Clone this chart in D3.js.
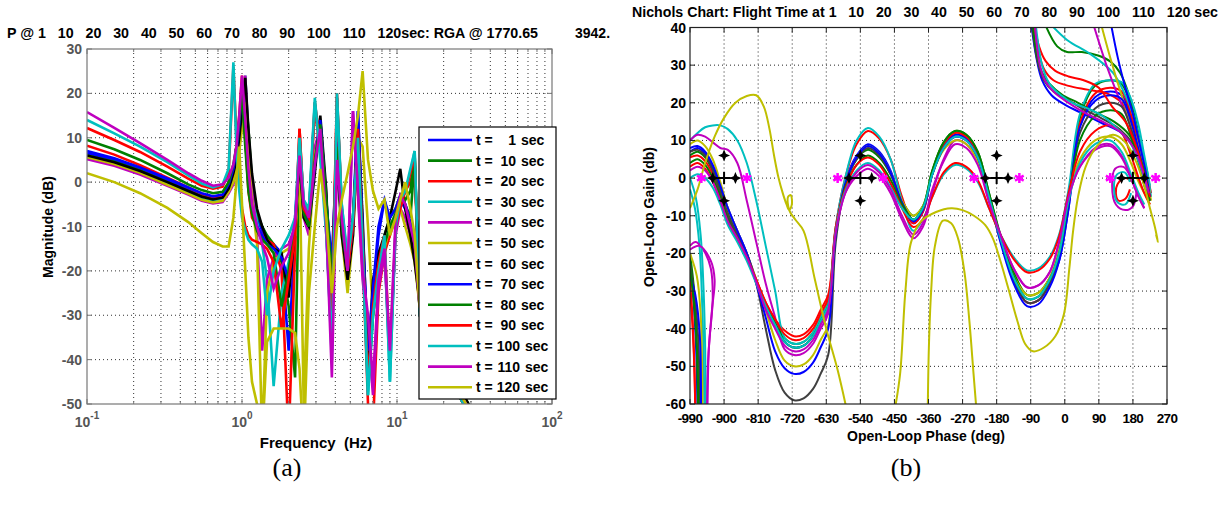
<!DOCTYPE html>
<html><head><meta charset="utf-8">
<script src="https://cdn.jsdelivr.net/npm/d3@7"></script>
<style>
body{margin:0;background:#fff;}
svg text{font-family:"Liberation Sans",Arial,sans-serif;font-weight:bold;}
</style></head><body>
<svg id="c" width="1231" height="508"></svg>
<script>
// ---------------- DATA ----------------
const seriesLabels = ['1','10','20','30','40','50','60','70','80','90','100','110','120'];
const seriesColors = ['#0000ff','#008000','#ff0000','#00bfbf','#bf00bf','#bfbf00','#000000','#0000ff','#008000','#ff0000','#00bfbf','#bf00bf','#bfbf00'];
const nicholsColors = ['#0000ff','#008000','#ff0000','#00bfbf','#bf00bf','#bfbf00','#404040','#0000ff','#008000','#ff0000','#00bfbf','#bf00bf','#bfbf00'];

// Bode magnitude (dB) vs frequency (Hz)
const freqHz = [0.1,0.15,0.22,0.33,0.45,0.55,0.65,0.75,0.82,0.88,0.92,0.96,1.0,1.05,1.1,1.16,1.25,1.35,1.45,1.6,1.8,2.0,2.2,2.35,2.5,2.7,2.95,3.2,3.5,3.8,4.1,4.4,4.8,5.2,5.6,6.0,6.5,7.0,7.6,8.3,9.0,9.8,10.5,11.3,12.2,13.0,14.0,16.0,20,25,30,36];
const magT1 = [6.5,5,3,0.5,-1.5,-2.8,-3.5,-3,-1, 2,5,10,16,22,8,-2, -8,-11,-13,-14,-16,-38,-12, 8,-6,-9,6,14,-4,-20, 10,-8,-20,-8,16,-12,-40, -25,-12,-4,-10,-8,-4,-6,-10,-14, -28,-35,-41,-47,-52,-58];
const magT10 = [6,4.6,2.6,0,-2,-3.2,-3.8,-3.2,-1.2, 1,4,8,14,20,12,0, -7,-10,-12,-14,-18,-28,-44, 6,-7,-10,5,13,-6,-25, 8,-10,-22,-10,12,-14,-44, -28,-18,-12,-8,-6,-3,-5,-8,5, -27,-34,-40,-46,-51,-57];
const magT20 = [8.2,6.2,3.8,1,-1.2,-2.6,-3.4,-3,-0.5, 3,8,15,24,10,-2,-8, -10,-12,-13,-14,-20,-58,-15, 12,-5,-8,17,6,-8,-28, 20,-6,-18,-9,12,-16,-50, -55,-25,-16,-12,-8,-5,-2,0,4, -29,-36,-42,-48,-53,-59];
const magT30 = [5.5,4,2,-0.5,-2.5,-3.8,-4.3,-3.8,-2, 0,3,8,16,24,10,-3, -9,-14,-22,-46,-25,-18,-12, 10,-4,-7,18,8,-10,-40, 19,-5,-17,-8,10,-15,-48, -30,-20,-14,-45,-10,-5,-2,2,7, -30,-36,-42,-48,-53,-60];
const magT40 = [5.2,3.7,1.7,-0.8,-2.8,-4.2,-4.8,-4.5,-2.5, -0.5,3,8,15,24,10,-2, -12,-38,-22,-17,-15,-14,-10, 5,-8,-12,8,12,-12,-35, 6,-9,-22,16,-3,-22,-34, -48,-24,-16,-40,-12,-6,-8,-12,-16, -28,-35,-41,-47,-52,-58];
const magT50 = [5.6,4.1,2.1,-0.6,-2.6,-4,-4.6,-4.2,-2.2, 0,3,7,12,18,6,-4, -14,-58,-25,-18,-16,-15,-12, 4,-50,-15,6,12,-6,-22, 7,-12,-25,-12,10,8,-10, -30,-20,-15,-10,-8,-6,-10,-14,-18, -28,-35,-41,-47,-52,-58];
const magT60 = [6,4.5,2.5,0,-2,-3.3,-3.9,-3.5,-1.5, 2,5,10,16,23.5,12,2, -6,-10,-13,-15,-16,-26,-10, 5,-8,-10,2,15,-2,-35, 6,-12,-22,-12,13,-8,-42, -22,-16,-12,-8,-2,3,-6,-12,-18, -27,-34,-40,-46,-51,-57];
const magT70 = [7,5.4,3.3,0.8,-1.2,-2.5,-3.2,-2.8,-0.5, 3,7,13,21,10,0,-6, -10,-12,-14,-15,-17,-22,-8, 7,-6,-9,4,14,-5,-18, 9,-9,-20,-10,16,-10,-38, -24,-10,-4,-8,-6,-3,-5,-9,-13, -28,-35,-41,-47,-52,-58];
const magT80 = [9.5,7.4,5,2,-0.5,-1.8,-2.5,-2.2,0, 4,8,14,20,8,-2,-7, -11,-13,-14,-16,-28,-20,-9, 6,-7,-10,5,13,-4,-22, 8,-10,-20,-8,11,-12,-46, -30,-20,-14,-10,-7,-4,-4,-2,6, -29,-36,-42,-48,-53,-59];
const magT90 = [12.2,9.5,6.8,3.5,0.8,-0.8,-1.5,-1,2, 26,10,0,-6,-10,-12,-13, -13.5,-14,-15,-18,-33,-22,-12, 12,-6,-8,18,8,-10,-30, 19,-6,-20,-10,12,-14,-45, -28,-18,-12,-40,-10,-6,-2,2,6, -30,-36,-42,-48,-53,-60];
const magT100 = [14,11,8,4.5,1.5,-0.3,-1.2,-0.5,3, 27,8,-2,-8,-11,-13,-14, -15,-18,-30,-20,-15,-12,-8, 10,-4,-6,19,5,-12,-38, 20,-5,-18,-8,10,-15,-48, -30,-20,-12,-45,-10,-4,-2,3,7, -30,-36,-42,-48,-53,-60];
const magT110 = [15.8,12.2,8.8,5,2,0.3,-0.8,-0.5,1, 4,8,15,24,14,3,-5, -10,-14,-17,-24,-19,-16,-9, 6,-5,-8,4,12,-10,-44, 5,-8,-20,16,-2,-20,-30, -45,-22,-15,-38,-8,-3,-5,-10,-14, -28,-35,-41,-47,-52,-58];
const magT120 = [2,0,-2.5,-5.8,-9,-11.5,-13.5,-14.5,-14.5, -8,0,8,-5,-20,-35,-45, -50,-58,-36,-33,-33,-33,-34, -42,-60,-25,-10,3,-8,-25, -10,-4,2,8,15,25,5, -2,-6,-4,-12,-8,-4,0,-6,-12, -28,-36,-42,-47,-52,-58];
const bodeMags = [magT1,magT10,magT20,magT30,magT40,magT50,magT60,magT70,magT80,magT90,magT100,magT110,magT120];
const bodeDecades = [0.1,1,10,100];
const bodeExponents = ['-1','0','1','2'];

// Nichols: open-loop gain (dB) on a shared phase grid (deg)
const nPhase = [-990,-970,-950,-930,-910,-890,-865,-840,-815,-790,-765,-740,-715,-690,-665,-645,-625,-605,-580,-550,-520,-490,-460,-430,-400,-375,-350,-320,-290,-260,-230,-200,-170,-135,-100,-70,-40,-15,10,40,80,120,150,175,195,210,225];
const nT1 = [7,8,6.5,3,-2,-8,-14,-20,-27,-34,-39, -43.5,-45,-44.5,-42,-38,-34,-14, -1,6,9,7,2,-7,-12, -9,1,8.5,11.5,10.5,6,-5, -16,-27,-33,-32.5,-28,-22,-8, 14,21.5,23,22,16,8,1,-6];
const nT10 = [6,7,5.5,2,-3,-9,-15,-21,-27.5,-33.5,-38, -42.5,-44,-43.5,-41,-37,-33,-13.5, -1.5,5,7.5,5.5,1,-6,-10, -7.5,2,9.5,12.5,11.5,7,-4, -15,-25,-31,-30.5,-26.5,-20,-6, 16,24.5,26,25,19,10,2,-5];
const nT20 = [5.5,6,4.5,1,-4,-10,-15.5,-21,-27,-33,-37.5, -40.5,-42,-41.5,-39,-35,-31,-13, 0,9,12.5,10.5,5,-5,-12, -9,1.5,9,12,11,6.5,-4.5, -16,-27,-33,-32.5,-28,-21,-7, 14.5,22.5,24,23,17,9,1.5,-5];
const nT30 = [10,12,13.5,14,14,13,10,4,-6,-18,-30, -42.5,-44,-43.5,-41,-37,-33,-13, 0,10,13.3,11,5,-6,-14, -11,-5,1,3.5,2.5,-1,-8, -15,-21,-24.5,-24,-21,-15,-3, 17,25,26,25.5,21,14,6,-2];
const nT40 = [10,11.5,11,9.5,8,7.5,4,-6,-17,-28,-37, -45.5,-47,-46.5,-44,-40,-36,-15, -4,0.5,2.5,0.5,-4,-11,-16, -13,-4,5,10,9,4.5,-5.5, -15,-24,-29,-28.5,-25,-17,-5, 3,8,9,6,0,-5,-8,null];
const nT50 = [9,10,8.5,5,-1,-8,-14,-20,-27,-35,-43, -48.5,-50,-49.5,-47,-43,-39,-15, -1.5,5.5,8.5,6.5,1.5,-6,-10, -7.5,1,7.5,10,9,4.5,-6, -16.5,-26,-31,-30.5,-26.5,-19,-5, 5,10,11,9,4,-1,-4,-7];
const nT60 = [7,7.5,6,2,-4,-10,-15,-20,-28,-40,-51, -57,-59,-58.5,-56,-52,-47,-17, -2,5,8,6,1,-6.5,-11, -8,1,8,11,10,5.5,-5, -16,-27,-33,-32.5,-28,-21,-7, 12,18.5,20,19,13,6,0,-6];
const nT70 = [8,8.5,7,3.5,-2,-8,-14,-20,-28,-37,-46, -50.5,-52,-51.5,-49,-45,-40,-15, -1.5,5.5,8.5,6.5,1.5,-6.5,-11.5, -8.5,1,8,11,10,5.5,-5, -17,-28,-34,-33.5,-29,-22,-8, 13.5,20.5,22,21,15,7.5,1,-5];
const nT80 = [4,5,3.5,0,-5,-11,-16,-21,-27.5,-34,-38.5, -43.5,-45,-44.5,-42,-38,-34,-14, -2.5,3.5,6,4,-0.5,-7,-11, -8,2,9.5,12.5,11.5,7,-4, -15.5,-26,-32,-31.5,-27,-20,-6, 10,16.5,18,17,11,4,-2,-6];
const nT90 = [3,4,2.5,-1,-6,-12,-16.5,-21,-27,-33,-37.5, -41.5,-43,-42.5,-40,-36,-32,-13, -3,3.5,5.5,3.5,-1.5,-8,-13, -11,-5,1.5,4,3,-0.5,-8, -15,-21.5,-25,-24.5,-21.5,-15.5,-4, 7,12.5,14,12,6,0,-4,-7];
const nT100 = [0,1,0,-2.5,-7,-12.5,-17,-22,-28,-34,-39, -43.5,-45,-44.5,-42,-38,-34,-14, -3.5,2,4,2,-2.5,-8,-11, -8,1,8,11,10,5.5,-5, -16,-26.5,-32,-31.5,-27,-20,-6, 4,9,10,7,1,-4,-7,null];
const nT110 = [2,3,2,-1,-6,-11.5,-16,-21,-27.5,-35,-40, -44.5,-46,-45.5,-43,-39,-35,-14.5, -4,1.5,3.5,1.5,-3,-10,-15, -12,-3,4.5,9,8,3.5,-6.5, -15,-24,-29,-28.5,-25,-17,-5, 3,7.5,8.5,5.5,0,-5,-8,null];
const nicholsMain = [nT1,nT10,nT20,nT30,nT40,nT50,nT60,nT70,nT80,nT90,nT100,nT110,null];

// extra Nichols branches as [phase, gain] pairs
const tailT1 = [[-990,-22],[-981,-32],[-974,-45],[-970,-62]];
const topT1 = [[-90,42],[-75,32],[-60,26],[-35,22],[0,19.5],[50,17],[100,14.5],[150,12],[185,8],[205,2],[220,-4]];
const tailT10 = [[-990,-20],[-979,-30],[-972,-44],[-969,-62]];
const topT10 = [[-57,42],[-20,35],[6,33.5],[45,33.5],[90,32.5],[120,31],[146,28],[170,22],[190,14],[205,6],[218,-2]];
const tailT20 = [[-990,-27],[-984,-36],[-979,-48],[-976,-62]];
const topT20 = [[-84,42],[-70,34],[-55,29],[-30,26],[10,24.5],[60,23.5],[111,22.5],[150,20],[175,15],[198,9],[215,2],[228,-4]];
const loopT20 = [[178,-1],[160,0],[140,-1.5],[135,-4],[142,-6],[160,-5.5],[172,-3]];
const tailT30 = [[-990,-3],[-977,-8],[-965,-18],[-958,-33],[-954,-48],[-952,-62]];
const topT30 = [[-48,42],[6,36.7],[67,33],[127,28],[160,22],[180,17],[200,9],[217,2],[228,-5]];
const tailT40 = [[-990,-18],[-975,-17],[-955,-19],[-935,-24],[-930,-32],[-940,-45],[-944,-62]];
const topT40 = [[72,42],[110,30],[140,22],[170,15],[195,8],[210,3],[222,-3]];
const loopT40 = [[190,-3],[180,-7.5],[160,-8.5],[135,-7],[125,-2],[133,2.5],[155,3],[175,0]];
const tailT50 = [[-990,-20],[-972,-26],[-962,-36],[-958,-50],[-957,-62]];
const topT50 = [[93,42],[120,32],[150,22],[180,13],[200,7],[215,1],[228,-6]];
const tailT60 = [[-990,-23],[-978,-31],[-968,-43],[-965,-62]];
const topT60 = [[-88,42],[-72,31],[-55,26],[-30,23],[5,21],[45,18.5],[95,16],[145,13],[180,9],[205,3],[220,-3]];
const tailT70 = [[-990,-26],[-976,-31],[-964,-42],[-961,-62]];
const topT70 = [[120,42],[140,32],[160,24],[180,17],[200,8],[215,1],[225,-5]];
const tailT80 = [[-990,-24],[-979,-34],[-970,-50],[-968,-62]];
const topT80 = [[-86,42],[-74,33],[-60,28],[-40,25],[-5,22],[35,20],[80,17.5],[130,15],[170,11.5],[200,5],[218,-2]];
const tailT90 = [[-990,-29],[-983,-40],[-978,-52],[-976,-62]];
const topT90 = [[-82,42],[-68,35],[-50,31],[-25,28.5],[10,27],[50,26],[90,24],[125,19],[160,15],[190,8],[212,0],[225,-5]];
const tailT100 = [[-990,0],[-975,-5],[-962,-15],[-954,-30],[-950,-45],[-948,-62]];
const topT100 = [[-78,42],[-60,30],[-40,25],[-10,22],[20,20],[60,18.5],[100,16.5],[140,13],[175,9],[200,3],[218,-3]];
const loopT100 = [[175,-4],[160,-7],[140,-6.5],[130,-3],[138,1],[158,1.5],[172,-1]];
const tailT110 = [[-990,-19],[-965,-18],[-935,-22],[-925,-27],[-932,-35],[-942,-48],[-945,-62]];
const topT110 = [[-80,42],[-66,30],[-50,25.5],[-25,22.5],[10,20],[50,17.5],[100,15],[150,12],[185,7.5],[208,1],[222,-4]];
const y120a = [[-990,-8],[-970,-3],[-950,4],[-925,11],[-900,16],[-870,20],[-840,21.8],[-815,22],[-795,19],[-780,13],[-768,6],[-756,0],[-745,-4],[-735,-7],[-728,-8.5],[-721,-7],[-724,-4.5],[-731,-5],[-728,-8.5],[-712,-11],[-690,-14],[-660,-27],[-630,-40],[-600,-51],[-575,-62]];
const y120b = [[-450,-62],[-435,-52],[-421,-30],[-406,-17],[-380,-11.5],[-340,-9],[-300,-8],[-270,-8.5],[-240,-10],[-210,-12.5],[-190,-16],[-170,-22],[-150,-29],[-125,-38],[-105,-44],[-84,-46],[-55,-45],[-25,-42],[-2,-36],[12,-24],[22,-14],[35,-5],[55,3],[85,8.5],[127,11.5],[160,9.5],[190,4],[210,-2],[225,-8],[238,-13],[246,-17],[241,-15]];
const y120c = [[-362,-62],[-359,-45],[-353,-30],[-343,-18],[-322,-11.3],[-300,-12],[-282,-16],[-265,-25],[-252,-38],[-241,-52],[-233,-62]];
const nicholsExtra = [[tailT1,topT1],[tailT10,topT10],[tailT20,topT20,loopT20],[tailT30,topT30],[tailT40,topT40,loopT40],[tailT50,topT50],[tailT60,topT60],[tailT70,topT70],[tailT80,topT80],[tailT90,topT90],[tailT100,topT100,loopT100],[tailT110,topT110],[y120a,y120b,y120c]];

// stability margin markers
const marginCenters = [-900,-540,-180,180];
const marginPhaseOffsets = [-30,30];
const marginGainOffsets = [6,-6];
const marginStarOffsets = [-60,60];

// ---------------- DRAW ----------------
const svg = d3.select('#c');
const defs = svg.append('defs');

// ---- Left: Bode magnitude ----
const L = {x0:87,x1:552,y0:49,y1:404};
const xF = d3.scaleLog().domain([0.1,100]).range([L.x0,L.x1]);
const yM = d3.scaleLinear().domain([-50,30]).range([L.y1,L.y0]);
defs.append('clipPath').attr('id','clipL').append('rect').attr('x',L.x0).attr('y',L.y0).attr('width',L.x1-L.x0).attr('height',L.y1-L.y0);
const gL = svg.append('g');
const lGrey = '#555';
// grid
gL.selectAll('.vg').data(xF.ticks().filter(v=>v>0.1&&v<100)).enter().append('line')
  .attr('x1',d=>xF(d)).attr('x2',d=>xF(d)).attr('y1',L.y0).attr('y2',L.y1)
  .attr('stroke','#333').attr('stroke-width',1).attr('stroke-dasharray','1,3');
gL.selectAll('.hg').data(yM.ticks(8).filter(v=>v>-50&&v<30)).enter().append('line')
  .attr('x1',L.x0).attr('x2',L.x1).attr('y1',d=>yM(d)).attr('y2',d=>yM(d))
  .attr('stroke','#333').attr('stroke-width',1).attr('stroke-dasharray','1,3');
// lines
const bodeLine = d3.line().x(d=>xF(d[0])).y(d=>yM(d[1]));
const gLL = gL.append('g').attr('clip-path','url(#clipL)');
bodeMags.forEach((m,i)=>{
  gLL.append('path').attr('d',bodeLine(freqHz.map((f,j)=>[f,m[j]])))
    .attr('fill','none').attr('stroke',seriesColors[i]).attr('stroke-width',2.6).attr('stroke-linejoin','miter');
});
// box & ticks
gL.append('rect').attr('x',L.x0).attr('y',L.y0).attr('width',L.x1-L.x0).attr('height',L.y1-L.y0)
  .attr('fill','none').attr('stroke','#777').attr('stroke-width',1.2);
xF.ticks().forEach(v=>{
  const major = bodeDecades.includes(+v.toPrecision(3));
  const len = major?5:3;
  gL.append('line').attr('x1',xF(v)).attr('x2',xF(v)).attr('y1',L.y1).attr('y2',L.y1-len).attr('stroke','#777');
  gL.append('line').attr('x1',xF(v)).attr('x2',xF(v)).attr('y1',L.y0).attr('y2',L.y0+len).attr('stroke','#777');
});
yM.ticks(8).forEach(v=>{
  gL.append('line').attr('x1',L.x0).attr('x2',L.x0+5).attr('y1',yM(v)).attr('y2',yM(v)).attr('stroke','#777');
  gL.append('line').attr('x1',L.x1).attr('x2',L.x1-5).attr('y1',yM(v)).attr('y2',yM(v)).attr('stroke','#777');
  gL.append('text').attr('x',L.x0-5).attr('y',yM(v)).attr('dy','0.36em').attr('text-anchor','end')
    .attr('font-size',14).attr('fill',lGrey).text(v);
});
bodeDecades.forEach((v,i)=>{
  const t = gL.append('text').attr('x',xF(v)).attr('y',427).attr('text-anchor','middle').attr('font-size',14).attr('fill',lGrey);
  t.append('tspan').text('10');
  t.append('tspan').attr('dy',-8).attr('font-size',10).text(bodeExponents[i]);
});
gL.append('text').attr('x',316).attr('y',448).attr('text-anchor','middle').attr('font-size',15).attr('fill','#000')
  .style('white-space','pre').text('Frequency  (Hz)');
gL.append('text').attr('transform','translate(53,227) rotate(-90)').attr('text-anchor','middle').attr('font-size',14).attr('fill','#000').text('Magnitude (dB)');
// legend
const lg = gL.append('g');
lg.append('rect').attr('x',419).attr('y',127).attr('width',137).attr('height',272).attr('fill','#fff').attr('stroke','#000').attr('stroke-width',1.2);
seriesLabels.forEach((s,i)=>{
  const yy = 140 + i*20.6;
  lg.append('line').attr('x1',428).attr('x2',472).attr('y1',yy).attr('y2',yy).attr('stroke',seriesColors[i]).attr('stroke-width',2.6);
  lg.append('text').attr('x',476).attr('y',yy).attr('dy','0.36em').attr('font-size',14).text('t =');
  const endX = s.length===3?520:516;
  lg.append('text').attr('x',endX).attr('y',yy).attr('dy','0.36em').attr('text-anchor','end').attr('font-size',14).text(s);
  lg.append('text').attr('x',endX+5).attr('y',yy).attr('dy','0.36em').attr('font-size',14).text('sec');
});
// title
svg.append('text').attr('x',7).attr('y',38).attr('font-size',14).style('white-space','pre')
  .attr('textLength',531).attr('lengthAdjust','spacingAndGlyphs')
  .text('P @ 1   10   20   30   40   50   60   70   80   90   100   110   120sec: RGA @ 1770.65');
svg.append('text').attr('x',575).attr('y',38).attr('font-size',14).text('3942.');

// ---- Right: Nichols ----
const R = {x0:690,x1:1167,y0:27.5,y1:404};
const xP = d3.scaleLinear().domain([-990,270]).range([R.x0,R.x1]);
const yG = d3.scaleLinear().domain([-60,40]).range([R.y1,R.y0]);
defs.append('clipPath').attr('id','clipR').append('rect').attr('x',R.x0).attr('y',R.y0).attr('width',R.x1-R.x0).attr('height',R.y1-R.y0);
const gR = svg.append('g');
const phTicks = d3.range(-990,271,90);
const gnTicks = yG.ticks(10);
gR.selectAll('.vg').data(phTicks.filter(v=>v>-990&&v<270)).enter().append('line')
  .attr('x1',d=>xP(d)).attr('x2',d=>xP(d)).attr('y1',R.y0).attr('y2',R.y1)
  .attr('stroke','#222').attr('stroke-dasharray','1,3');
gR.selectAll('.hg').data(gnTicks.filter(v=>v>-60&&v<40)).enter().append('line')
  .attr('x1',R.x0).attr('x2',R.x1).attr('y1',d=>yG(d)).attr('y2',d=>yG(d))
  .attr('stroke','#222').attr('stroke-dasharray','1,3');
const gRL = gR.append('g').attr('clip-path','url(#clipR)');
const nLine = d3.line().defined(d=>d[1]!==null).x(d=>xP(d[0])).y(d=>yG(d[1])).curve(d3.curveCatmullRom.alpha(0.5));
for(let i=0;i<13;i++){
  const col = nicholsColors[i];
  const segs = [];
  if(nicholsMain[i]) segs.push(nPhase.map((p,j)=>[p,nicholsMain[i][j]]));
  nicholsExtra[i].forEach(s=>segs.push(s));
  segs.forEach(s=>{
    gRL.append('path').attr('d',nLine(s)).attr('fill','none').attr('stroke',col).attr('stroke-width',2);
  });
}
// margin markers
const star4 = r=>{const a=r*0.3;return `M0,${-r}L${a},${-a}L${r},0L${a},${a}L0,${r}L${-a},${a}L${-r},0L${-a},${-a}Z`;};
const mk = gR.append('g');
marginCenters.forEach(c=>{
  mk.append('line').attr('x1',xP(c+marginPhaseOffsets[0])).attr('x2',xP(c+marginPhaseOffsets[1])).attr('y1',yG(0)).attr('y2',yG(0)).attr('stroke','#000').attr('stroke-width',1.5);
  marginStarOffsets.forEach(o=>{
    mk.append('path').attr('transform',`translate(${xP(c+o)},${yG(0)})`)
      .attr('d',d3.symbol(d3.symbolAsterisk,70)()).attr('stroke','#ff00ff').attr('stroke-width',2.5).attr('fill','none');
  });
  marginPhaseOffsets.forEach(o=>{
    mk.append('path').attr('transform',`translate(${xP(c+o)},${yG(0)})`).attr('d',star4(6)).attr('fill','#000');
  });
  marginGainOffsets.forEach(o=>{
    mk.append('path').attr('transform',`translate(${xP(c)},${yG(o)})`).attr('d',star4(6)).attr('fill','#000');
  });
  mk.append('path').attr('transform',`translate(${xP(c)},${yG(0)})`)
    .attr('d','M-6,0H6M0,-6V6').attr('stroke','#000').attr('stroke-width',2);
});
// box & ticks
gR.append('rect').attr('x',R.x0).attr('y',R.y0).attr('width',R.x1-R.x0).attr('height',R.y1-R.y0)
  .attr('fill','none').attr('stroke','#222').attr('stroke-width',1.2);
phTicks.forEach(v=>{
  gR.append('line').attr('x1',xP(v)).attr('x2',xP(v)).attr('y1',R.y1).attr('y2',R.y1-5).attr('stroke','#222');
  gR.append('line').attr('x1',xP(v)).attr('x2',xP(v)).attr('y1',R.y0).attr('y2',R.y0+5).attr('stroke','#222');
  gR.append('text').attr('x',xP(v)).attr('y',423).attr('text-anchor','middle').attr('font-size',13.5)
    .attr('letter-spacing',-0.6).text(v);
});
gnTicks.forEach(v=>{
  gR.append('line').attr('x1',R.x0).attr('x2',R.x0+5).attr('y1',yG(v)).attr('y2',yG(v)).attr('stroke','#222');
  gR.append('line').attr('x1',R.x1).attr('x2',R.x1-5).attr('y1',yG(v)).attr('y2',yG(v)).attr('stroke','#222');
  gR.append('text').attr('x',R.x0-4).attr('y',yG(v)).attr('dy','0.36em').attr('text-anchor','end').attr('font-size',14).text(v);
});
gR.append('text').attr('x',926).attr('y',441).attr('text-anchor','middle').attr('font-size',14).text('Open-Loop Phase (deg)');
gR.append('text').attr('transform','translate(654,217) rotate(-90)').attr('text-anchor','middle').attr('font-size',14).text('Open-Loop Gain (db)');
svg.append('text').attr('x',632).attr('y',17).attr('font-size',14).style('white-space','pre')
  .attr('textLength',586).attr('lengthAdjust','spacingAndGlyphs')
  .text('Nichols Chart: Flight Time at 1   10   20   30   40   50   60   70   80   90   100   110   120 sec');

// panel captions
svg.append('text').attr('x',287).attr('y',476).attr('text-anchor','middle').style('font-family','"Liberation Serif",serif').style('font-weight','normal').attr('font-size',26).text('(a)');
svg.append('text').attr('x',906).attr('y',476).attr('text-anchor','middle').style('font-family','"Liberation Serif",serif').style('font-weight','normal').attr('font-size',26).text('(b)');
</script></body></html>
